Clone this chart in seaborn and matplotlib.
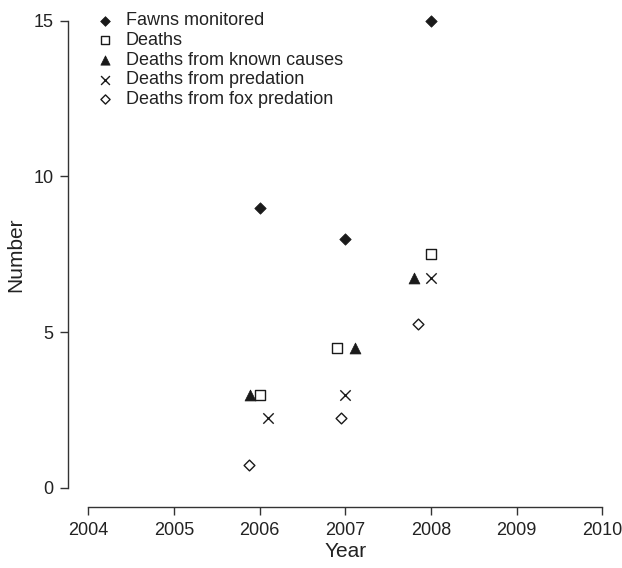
import matplotlib
matplotlib.use("Agg")
import matplotlib.pyplot as plt
import seaborn as sns
import pandas as pd

# ---- data ----
years = [2006, 2007, 2008]
series_names = ["Fawns monitored", "Deaths", "Deaths from known causes",
                "Deaths from predation", "Deaths from fox predation"]
fawns_monitored = [9, 8, 15]
deaths = [3, 4.5, 7.5]
deaths_known = [3, 4.5, 6.75]
deaths_predation = [2.25, 3, 6.75]
deaths_fox = [0.75, 2.25, 5.25]
x_ticks = [2004, 2005, 2006, 2007, 2008, 2009, 2010]
y_ticks = [0, 5, 10, 15]

values = [fawns_monitored, deaths, deaths_known, deaths_predation, deaths_fox]

# ---- styling (horizontal dodge of markers, as in the original) ----
dodge = [[0, 0, 0], [0, -0.1, 0], [-0.11, 0.11, -0.2],
         [0.1, 0, 0], [-0.12, -0.05, -0.15]]
styles = [
    dict(marker="D", s=34, color="#1a1a1a", edgecolor="#1a1a1a", linewidth=0.5),
    dict(marker="s", s=56, color="white", edgecolor="#1a1a1a", linewidth=1.0),
    dict(marker="^", s=62, color="#1a1a1a", edgecolor="#1a1a1a", linewidth=0.5),
    dict(marker="x", s=56, color="#1a1a1a", linewidth=1.0),
    dict(marker="D", s=30, color="white", edgecolor="#1a1a1a", linewidth=1.0),
]

sns.set_style("ticks")
plt.rcParams["font.family"] = ["Liberation Sans", "DejaVu Sans"]
TEXT = "#222222"

fig = plt.figure(figsize=(6.22, 5.68), dpi=100)
ax = fig.add_axes([88.3 / 622, (568 - 488) / 568, (602.3 - 88.3) / 622, (488 - 20.7) / 568])

for name, vals, dd, st in zip(series_names, values, dodge, styles):
    df = pd.DataFrame({"Year": [y + d for y, d in zip(years, dd)], "Number": vals})
    sns.scatterplot(data=df, x="Year", y="Number", ax=ax, label=name, zorder=3,
                    clip_on=False, **st)

ax.set_xlim(2004, 2010)
ax.set_ylim(0, 15)
ax.set_xticks(x_ticks)
ax.set_yticks(y_ticks)
ax.set_xticklabels([str(t) for t in x_ticks])
ax.set_yticklabels([str(t) for t in y_ticks])

for side in ["top", "right"]:
    ax.spines[side].set_visible(False)
ax.spines["left"].set_position(("outward", 14.4))
ax.spines["bottom"].set_position(("outward", 13.7))
for side in ["left", "bottom"]:
    ax.spines[side].set_linewidth(1.0)
    ax.spines[side].set_color("#333333")
ax.tick_params(axis="both", length=5.8, width=1.0, color="#333333",
               labelsize=13, labelcolor=TEXT, pad=5)

ax.set_xlabel("Year", fontsize=15, color=TEXT, labelpad=2)
ax.set_ylabel("Number", fontsize=15, color=TEXT, labelpad=6)

leg = ax.legend(loc="upper left", bbox_to_anchor=(0.0156, 1.018), frameon=False,
                fontsize=13, borderpad=0, borderaxespad=0, labelspacing=0.15,
                handlelength=1.0, handletextpad=0.62, markerscale=0.85)
for t in leg.get_texts():
    t.set_color(TEXT)

fig.savefig("out.png", dpi=100)
